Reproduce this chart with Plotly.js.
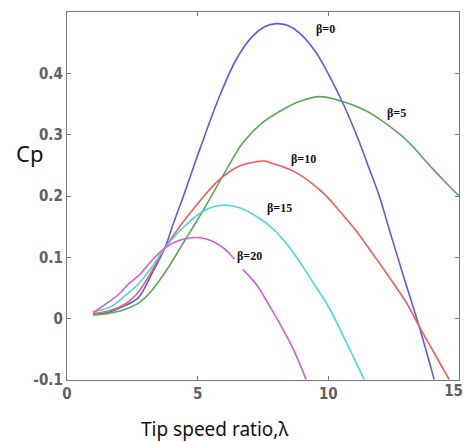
<!DOCTYPE html>
<html>
<head>
<meta charset="utf-8">
<script src="https://cdn.plot.ly/plotly-3.0.1.min.js"></script>
<style>html,body{margin:0;padding:0;background:#fff;}#chart{width:465px;height:441px;}</style>
</head>
<body>
<div id="chart"></div>
<script>
// Tip speed ratio (lambda) and power coefficient Cp for each pitch angle beta
const beta0_x = [1.0,1.64,2.09,2.72,3.23,3.74,4.06,4.44,5.08,5.84,6.48,7.11,7.56,8.0,8.45,8.89,9.53,10.04,10.55,11.12,11.56,11.95,12.39,12.9,13.47,14.05];
const beta0_y = [0.007,0.011,0.019,0.034,0.072,0.115,0.154,0.198,0.276,0.363,0.423,0.461,0.476,0.481,0.478,0.466,0.434,0.396,0.352,0.295,0.245,0.200,0.137,0.066,-0.012,-0.099];

const beta5_x = [1.0,1.64,2.21,2.79,3.23,3.87,4.5,4.95,5.46,6.1,6.73,7.49,8.39,8.89,9.66,10.55,11.44,12.07,12.97,13.98,14.49,15.0];
const beta5_y = [0.006,0.009,0.015,0.027,0.045,0.083,0.127,0.158,0.195,0.243,0.287,0.320,0.344,0.354,0.362,0.354,0.339,0.322,0.292,0.245,0.222,0.200];

const beta10_x = [1.0,1.96,2.6,3.1,3.74,4.38,4.95,5.84,6.6,7.24,7.56,7.87,8.64,9.27,9.85,10.48,11.12,11.76,12.39,13.03,13.47,14.05,14.62];
const beta10_y = [0.008,0.018,0.037,0.067,0.115,0.154,0.185,0.227,0.249,0.256,0.257,0.253,0.241,0.224,0.203,0.173,0.140,0.102,0.064,0.023,-0.012,-0.056,-0.099];

const beta15_x = [1.0,1.7,2.21,2.72,3.23,3.74,4.5,5.33,5.97,6.6,7.24,7.87,8.5,9.1,9.4,10.04,10.67,11.37];
const beta15_y = [0.011,0.020,0.037,0.056,0.083,0.115,0.151,0.178,0.185,0.181,0.167,0.147,0.117,0.080,0.060,0.017,-0.037,-0.099];

const beta20_x = [1.0,1.45,1.96,2.34,2.79,3.23,3.74,4.25,4.76,5.33,5.97,6.41,null,6.73,7.24,7.87,8.13,8.64,9.15];
const beta20_y = [0.010,0.023,0.039,0.056,0.072,0.094,0.115,0.127,0.132,0.130,0.116,0.097,null,0.080,0.056,0.012,-0.007,-0.048,-0.099];

const seriesNames = ['β=0','β=5','β=10','β=15','β=20'];
const xTicks = [0,5,10];
const xTickText = ['0','5','10'];
const xEdgeTick = [15];
const xEdgeTickText = ['15'];
const yTicks = [-0.1,0,0.1,0.2,0.3,0.4];
const yTickText = ['-0.1','0','0.1','0.2','0.3','0.4'];
const xTitle = 'Tip speed ratio,λ';
const yTitle = 'Cp';

// label anchor positions (data coords) for curve labels
const labelX = [9.89,12.61,9.05,8.15,7.0];
const labelY = [0.473,0.335,0.260,0.180,0.102];

const colors = ['#5a5af5','#5aa85a','#f55a5a','#4ed6d6','#d65ad6'];
const xs = [beta0_x,beta5_x,beta10_x,beta15_x,beta20_x];
const ys = [beta0_y,beta5_y,beta10_y,beta15_y,beta20_y];

const traces = xs.map((x,i)=>({
  x: x, y: ys[i], type:'scatter', mode:'lines', name: seriesNames[i],
  line:{color:colors[i], width:1.6, shape:'spline', smoothing:1.0},
  connectgaps:false, hoverinfo:'skip'
}));
// empty helper trace so the companion x-axis (right-edge tick label) gets drawn
traces.push({x:xEdgeTick, y:[null], xaxis:'x2', yaxis:'y', type:'scatter', mode:'lines', showlegend:false, hoverinfo:'skip'});

const tickFont = {family:'"DejaVu Sans Condensed","Liberation Sans Narrow","Arial Narrow",sans-serif', size:15, color:'#606060', weight:'bold'};

const annotations = seriesNames.map((n,i)=>({
  x: labelX[i], y: labelY[i], xref:'x', yref:'y', text: n, showarrow:false,
  font:{family:'"Liberation Serif","Times New Roman",serif', size:12, color:'#111', weight:'bold'}
}));
annotations.push({xref:'paper', yref:'paper', x:(29-67)/392, y:(380-153)/368, text:yTitle, showarrow:false,
  font:{family:'"Noto Sans","Liberation Sans",sans-serif', size:22, color:'#111'}, xanchor:'center', yanchor:'middle'});
annotations.push({xref:'paper', yref:'paper', x:(214-67)/392, y:(380-429)/368, text:xTitle, showarrow:false,
  font:{family:'"Noto Sans","Liberation Sans",sans-serif', size:19, color:'#111'}, xanchor:'center', yanchor:'middle'});

const layout = {
  width:465, height:441,
  margin:{l:67, r:6, t:12, b:61},
  paper_bgcolor:'#fff', plot_bgcolor:'#fff',
  showlegend:false,
  xaxis:{range:[0,15], tickvals:[...xTicks, ...xEdgeTick], ticktext:[...xTickText, ''], ticks:'inside', ticklen:4, tickcolor:'#777',
    showline:true, linecolor:'#777', linewidth:1.2, mirror:'ticks', showgrid:false, zeroline:false, tickfont:tickFont},
  // companion axis carrying only the right-edge tick label, kept inside the picture
  xaxis2:{overlaying:'x', anchor:'y', side:'bottom', range:[0,15], tickvals:xEdgeTick, ticktext:xEdgeTickText,
    ticklabelposition:'outside left', ticklabelshift:4, ticks:'', showline:false, showgrid:false, zeroline:false,
    tickfont:tickFont, fixedrange:true},
  yaxis:{range:[-0.1,0.5], tickvals:yTicks, ticktext:yTickText, ticks:'inside', ticklen:4, tickcolor:'#777',
    showline:true, linecolor:'#777', linewidth:1.2, mirror:'ticks', showgrid:false, zeroline:false, tickfont:tickFont},
  annotations: annotations
};

Plotly.newPlot('chart', traces, layout, {staticPlot:true, displayModeBar:false});
</script>
</body>
</html>
